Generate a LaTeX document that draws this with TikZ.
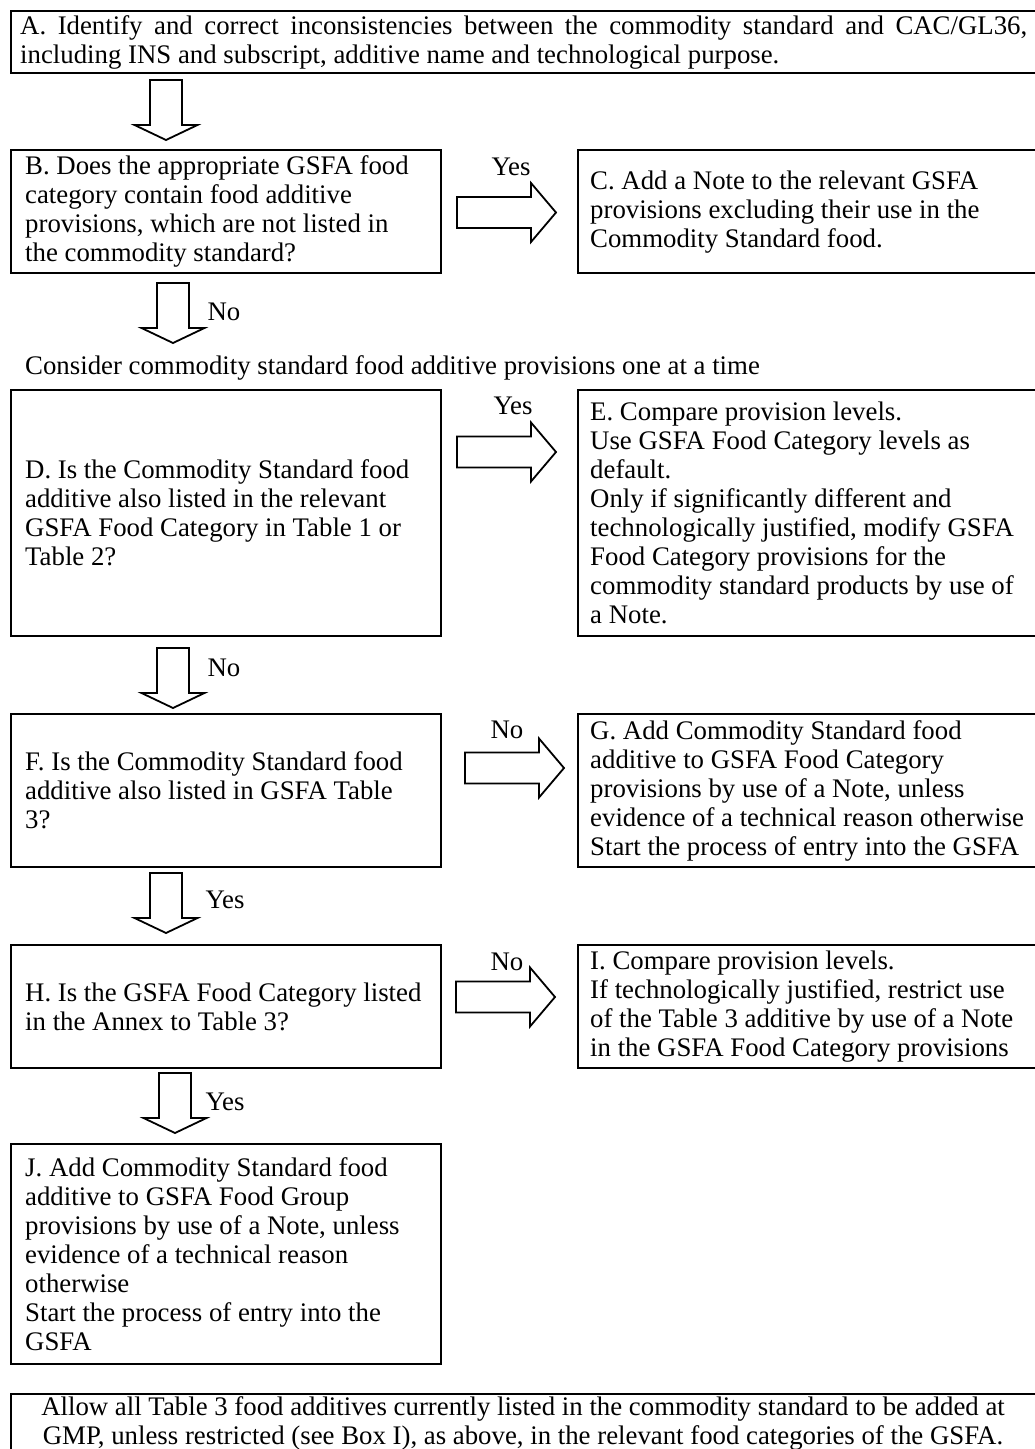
\documentclass[tikz,border=0pt]{standalone}
\usepackage{fontspec}
\setmainfont{Liberation Serif}
\begin{document}
\begin{tikzpicture}[x=1pt,y=-1pt,
  every node/.style={font=\fontsize{26.8}{29}\selectfont},
  box/.style={draw, line width=2.2pt, anchor=north west, inner sep=0pt},
  txt/.style={inner sep=0pt, anchor=west, align=left},
  lab/.style={inner sep=0pt},
  blk/.style={draw, line width=1.8pt, line join=miter, fill=white},
  darrow/.pic={\path[blk] (-16,0) -- (16,0) -- (16,45) -- (31.5,45) -- (0,60) -- (-31.5,45) -- (-16,45) -- cycle;},
  rarrow/.pic={\path[blk] (0,-15.5) -- (74,-15.5) -- (74,-29.5) -- (99,0) -- (74,29.5) -- (74,15.5) -- (0,15.5) -- cycle;}
]
\useasboundingbox (0,0) rectangle (1035,1449);
\clip (0,0) rectangle (1035,1449);
\fill[white] (0,0) rectangle (1035,1449);

% A
\node[box, minimum width=1037pt, minimum height=62pt] (A) at (10,10) {};
\node[inner sep=0pt, anchor=west, text width=1007pt, align=justify] (At) at ([xshift=10pt]A.west)
  {A. Identify and correct inconsistencies between the commodity standard and CAC/GL36,\linebreak including INS and subscript, additive name and technological purpose.};
\pic at (166,80) {darrow};

% B and C
\node[box, minimum width=430pt, minimum height=123pt] (B) at (10,149) {};
\node[txt] (Bt) at ([xshift=15pt]B.west) {B. Does the appropriate GSFA food\\category contain food additive\\provisions, which are not listed in\\the commodity standard?};
\node[box, minimum width=470pt, minimum height=123pt] (C) at (577,149) {};
\node[txt] (Ct) at ([xshift=13pt]C.west) {C. Add a Note to the relevant GSFA\\provisions excluding their use in the\\Commodity Standard food.};
\node[lab] (y1) at (511,167) {Yes};
\pic at (457,212.5) {rarrow};
\pic at (173,283) {darrow};
\node[lab] (n1) at (224,312) {No};

\node[txt] (cons) at (25,368) {Consider commodity standard food additive provisions one at a time};

% D and E
\node[box, minimum width=430pt, minimum height=246pt] (D) at (10,389) {};
\node[txt] (Dt) at ([xshift=15pt]D.west) {D. Is the Commodity Standard food\\additive also listed in the relevant\\GSFA Food Category in Table 1 or\\Table 2?};
\node[box, minimum width=470pt, minimum height=246pt] (E) at (577,389) {};
\node[txt] (Et) at ([xshift=13pt]E.west) {E. Compare provision levels.\\Use GSFA Food Category levels as\\default.\\Only if significantly different and\\technologically justified, modify GSFA\\Food Category provisions for the\\commodity standard products by use of\\a Note.};
\node[lab] (y2) at (513,406) {Yes};
\pic at (457,452) {rarrow};
\pic at (173,648) {darrow};
\node[lab] (n2) at (224,668) {No};

% F and G
\node[box, minimum width=430pt, minimum height=153pt] (F) at (10,713) {};
\node[txt] (Ft) at ([xshift=15pt]F.west) {F. Is the Commodity Standard food\\additive also listed in GSFA Table\\3?};
\node[box, minimum width=470pt, minimum height=153pt] (G) at (577,713) {};
\node[txt] (Gt) at ([xshift=13pt]G.west) {G. Add Commodity Standard food\\additive to GSFA Food Category\\provisions by use of a Note, unless\\evidence of a technical reason otherwise\\Start the process of entry into the GSFA};
\node[lab] (n3) at (507,730) {No};
\pic at (465,768) {rarrow};
\pic at (166,873) {darrow};
\node[lab] (y3) at (225,900) {Yes};

% H and I
\node[box, minimum width=430pt, minimum height=123pt] (H) at (10,944) {};
\node[txt] (Ht) at ([xshift=15pt]H.west) {H. Is the GSFA Food Category listed\\in the Annex to Table 3?};
\node[box, minimum width=470pt, minimum height=123pt] (I) at (577,944) {};
\node[txt] (It) at ([xshift=13pt]I.west) {I. Compare provision levels.\\If technologically justified, restrict use\\of the Table 3 additive by use of a Note\\in the GSFA Food Category provisions};
\node[lab] (n4) at (507,962) {No};
\pic at (456,997) {rarrow};
\pic at (175,1073) {darrow};
\node[lab] (y4) at (225,1102) {Yes};

% J
\node[box, minimum width=430pt, minimum height=220pt] (J) at (10,1143) {};
\node[txt] (Jt) at ([xshift=15pt]J.west) {J. Add Commodity Standard food\\additive to GSFA Food Group\\provisions by use of a Note, unless\\evidence of a technical reason\\otherwise\\Start the process of entry into the\\GSFA};

% final box
\node[box, minimum width=1037pt, minimum height=66pt] (K) at (10,1393) {};
\node[inner sep=0pt, align=center] (Kt) at (523,1423) {Allow all Table 3 food additives currently listed in the commodity standard to be added at\\GMP, unless restricted (see Box I), as above, in the relevant food categories of the GSFA.};
\end{tikzpicture}
\end{document}
